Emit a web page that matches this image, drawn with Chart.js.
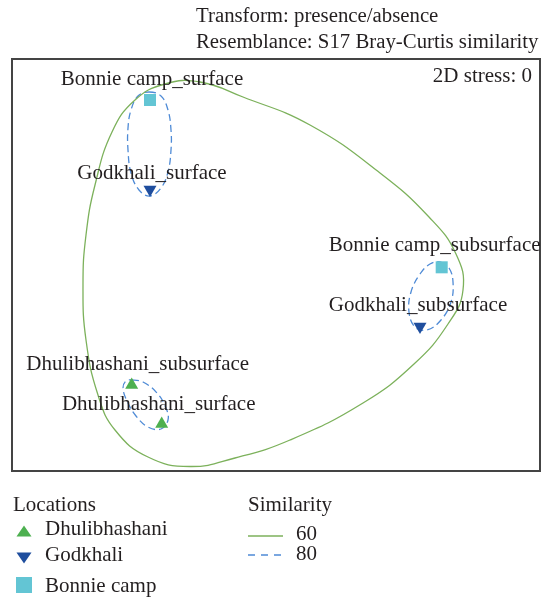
<!DOCTYPE html>
<html><head><meta charset="utf-8">
<script src="https://cdn.jsdelivr.net/npm/chart.js@4/dist/chart.umd.min.js"></script>
<style>html,body{margin:0;padding:0;background:#fff;}canvas{display:block;}</style>
</head><body>
<canvas id="c" width="543" height="600"></canvas>
<script>
// ---- data ----
const sampleNames = ['Bonnie camp_surface','Godkhali_surface','Bonnie camp_subsurface','Godkhali_subsurface','Dhulibhashani_subsurface','Dhulibhashani_surface'];
const sampleLocations = ['Bonnie camp','Godkhali','Bonnie camp','Godkhali','Dhulibhashani','Dhulibhashani'];
const mdsX = [-1.26, -1.26, 1.657, 1.44, -1.443, -1.143];
const mdsY = [1.645, 0.75, -0.028, -0.62, -1.205, -1.595];
const locationNames = ['Dhulibhashani','Godkhali','Bonnie camp'];
const similarityLevels = [60, 80];
const headerLines = ['Transform: presence/absence','Resemblance: S17 Bray-Curtis similarity'];
const stressText = '2D stress: 0';

// similarity contours (MDS coordinates)
const contour60 = [[-1.64,1.325],[-1.41,1.645],[-1.11,1.805],[-0.76,1.825],[-0.33,1.675],[0.34,1.395],[1.04,0.915],[1.53,0.475],[1.80,0.105],[1.87,-0.255],[1.72,-0.595],[1.38,-0.995],[0.87,-1.385],[0.14,-1.755],[-0.41,-1.935],[-0.86,-2.02],[-1.28,-1.925],[-1.61,-1.655],[-1.78,-1.305],[-1.90,-0.755],[-1.93,-0.205],[-1.90,0.295],[-1.81,0.795]];
const contour80Surface = [[-1.27,1.725],[-1.15,1.685],[-1.08,1.545],[-1.05,1.345],[-1.05,1.145],[-1.08,0.925],[-1.15,0.765],[-1.26,0.685],[-1.37,0.745],[-1.45,0.915],[-1.48,1.145],[-1.48,1.365],[-1.45,1.545],[-1.38,1.685]];
const contour80Subsurface = [[1.64,0.025],[1.73,-0.035],[1.77,-0.175],[1.75,-0.375],[1.65,-0.555],[1.51,-0.655],[1.39,-0.625],[1.33,-0.475],[1.35,-0.275],[1.44,-0.095],[1.54,0.005]];
const contour80Dhuli = [[-1.44,-1.155],[-1.33,-1.175],[-1.19,-1.285],[-1.10,-1.435],[-1.08,-1.555],[-1.15,-1.645],[-1.28,-1.625],[-1.40,-1.515],[-1.49,-1.365],[-1.53,-1.235],[-1.50,-1.165]];

// ---- styles ----
const FONT = '"Liberation Serif", "Times New Roman", serif';
const TEXT = '#231f20';
const GREEN_LINE = '#7cb15b';
const BLUE_DASH = '#4f8bd6';
const locStyle = {
  'Dhulibhashani': {color:'#4db050', pointStyle:'triangle', rotation:0, radius:7.5},
  'Godkhali': {color:'#1f4e9e', pointStyle:'triangle', rotation:180, radius:7.5},
  'Bonnie camp': {color:'#63c5d4', pointStyle:'rect', rotation:0, radius:8.5}
};
// label placement relative to marker (px): [dx of text centre, dy of baseline]
const labelOffsets = [[2,-15],[2,-10.5],[-7,-16.5],[-2,-16],[6,-15.5],[-3,-14.5]];

const toPts = arr => arr.map(p => ({x:p[0], y:p[1]}));

const datasets = [];
locationNames.forEach(loc => {
  const st = locStyle[loc];
  const pts = [];
  sampleLocations.forEach((l,i) => { if (l === loc) pts.push({x:mdsX[i], y:mdsY[i]}); });
  datasets.push({label:loc, data:pts, pointStyle:st.pointStyle, rotation:st.rotation,
    pointRadius:st.radius, pointHoverRadius:st.radius, backgroundColor:st.color, borderColor:st.color,
    borderWidth:0, showLine:false, order:0});
});
datasets.push({label:'60', data:toPts(contour60), showLine:true, closedContour:true, tension:0.45,
  borderColor:GREEN_LINE, borderWidth:1.3, pointRadius:0, order:1, fill:false});
[contour80Surface, contour80Subsurface, contour80Dhuli].forEach(c => {
  datasets.push({label:'80', data:toPts(c), showLine:true, closedContour:true, tension:0.4,
    borderColor:BLUE_DASH, borderWidth:1.3, borderDash:[7,4], pointRadius:0, order:1, fill:false});
});

function tri(ctx, cx, cy, w, h, up) {
  ctx.beginPath();
  if (up) { ctx.moveTo(cx, cy - h/2); ctx.lineTo(cx + w/2, cy + h/2); ctx.lineTo(cx - w/2, cy + h/2); }
  else { ctx.moveTo(cx, cy + h/2); ctx.lineTo(cx + w/2, cy - h/2); ctx.lineTo(cx - w/2, cy - h/2); }
  ctx.closePath(); ctx.fill();
}

const decor = {
  id:'decor',
  afterDatasetsUpdate(chart) {
    chart.data.datasets.forEach((ds,i) => {
      if (ds.closedContour) {
        const line = chart.getDatasetMeta(i).dataset;
        if (line) {
          line._loop = true; line._fullLoop = true;
          line._segments = undefined; line._path = undefined; line._pointsUpdated = false;
        }
      }
    });
  },
  afterDraw(chart) {
    const ctx = chart.ctx, a = chart.chartArea, xs = chart.scales.x, ys = chart.scales.y;
    ctx.save();
    // frame
    ctx.strokeStyle = '#444'; ctx.lineWidth = 2;
    ctx.strokeRect(a.left + 1, a.top + 1, a.right - a.left - 2, a.bottom - a.top - 1);
    ctx.fillStyle = TEXT;
    ctx.font = '21px ' + FONT;
    ctx.textBaseline = 'alphabetic';
    // sample labels
    ctx.textAlign = 'center';
    sampleNames.forEach((n,i) => {
      const px = xs.getPixelForValue(mdsX[i]), py = ys.getPixelForValue(mdsY[i]);
      ctx.fillText(n, px + labelOffsets[i][0], py + labelOffsets[i][1]);
    });
    // header
    ctx.textAlign = 'left';
    ctx.font = '20.8px ' + FONT;
    ctx.fillText(headerLines[0], 196, 22);
    ctx.fillText(headerLines[1], 196, 48);
    ctx.font = '21px ' + FONT;
    ctx.textAlign = 'right';
    ctx.fillText(stressText, a.right - 9, a.top + 24);
    // legend: locations
    ctx.textAlign = 'left';
    ctx.fillText('Locations', 13, 511);
    const rows = [535, 561, 592];
    locationNames.forEach((loc,i) => {
      ctx.fillStyle = TEXT;
      ctx.fillText(loc, 45, rows[i]);
      const st = locStyle[loc];
      ctx.fillStyle = st.color;
      if (st.pointStyle === 'rect') ctx.fillRect(16, 577, 16, 16);
      else tri(ctx, 24, i === 0 ? 531 : 558, 15, 11, st.rotation === 0);
    });
    // legend: similarity
    ctx.fillStyle = TEXT;
    ctx.fillText('Similarity', 248, 511);
    ctx.fillText(String(similarityLevels[0]), 296, 540);
    ctx.fillText(String(similarityLevels[1]), 296, 560);
    ctx.lineWidth = 1.3;
    ctx.strokeStyle = GREEN_LINE;
    ctx.beginPath(); ctx.moveTo(248, 536); ctx.lineTo(283, 536); ctx.stroke();
    ctx.strokeStyle = BLUE_DASH; ctx.setLineDash([7,6]);
    ctx.beginPath(); ctx.moveTo(248, 555); ctx.lineTo(283, 555); ctx.stroke();
    ctx.restore();
  }
};

new Chart(document.getElementById('c'), {
  type:'scatter',
  data:{datasets},
  options:{
    responsive:false, animation:false,
    layout:{autoPadding:false, padding:{left:11, top:58, right:2, bottom:129}},
    plugins:{legend:{display:false}, tooltip:{enabled:false}, title:{display:false}},
    scales:{
      x:{type:'linear', min:-2.65, max:2.65, display:false},
      y:{type:'linear', min:-2.065, max:2.065, display:false}
    }
  },
  plugins:[decor]
});
</script>
</body></html>
